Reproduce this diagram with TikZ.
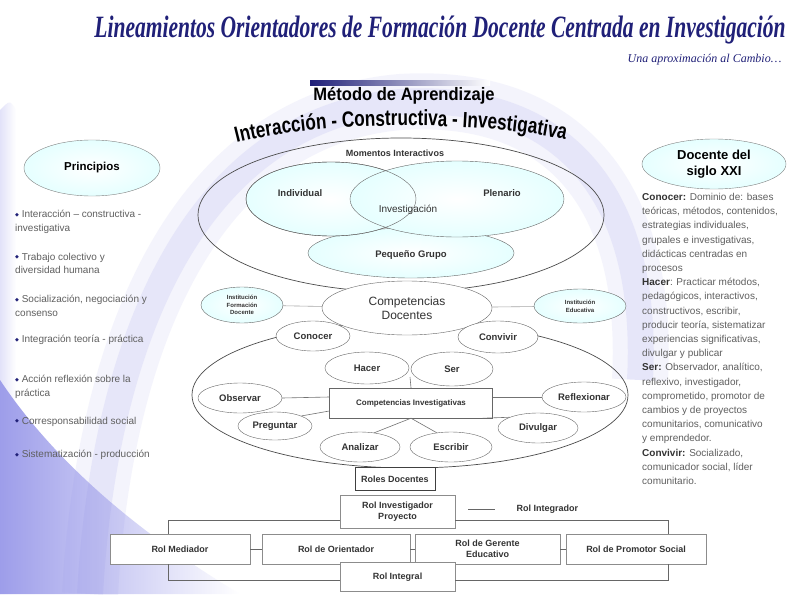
\documentclass[tikz,border=0pt]{standalone}
\usepackage{fontspec}
\setmainfont{Liberation Sans}
\newfontfamily\titlefont[FakeStretch=0.695]{Liberation Serif}
\newfontfamily\subfont{Liberation Serif}
\newfontfamily\arcfont[FakeStretch=0.78]{Liberation Sans}
\newfontfamily\methfont[FakeStretch=0.92]{Liberation Sans}
\newfontfamily\symfont{DejaVu Sans}
\usetikzlibrary{shapes.geometric,decorations.text,positioning}
\definecolor{navy}{RGB}{32,32,120}
\definecolor{lav}{RGB}{140,140,230}
\definecolor{txtgray}{RGB}{95,95,95}
\newcommand{\bul}{\raisebox{1.5pt}{\color{navy}\symfont\fontsize{5}{5}\selectfont ◆}\ }
\newcommand{\fs}[1]{\fontsize{#1}{#1}\selectfont}
\tikzset{
  bubble/.style={ellipse,draw=black!60,fill=white,inner sep=0pt,align=center,text=black!80,font=\fs{9.5}\bfseries},
  softbubble/.style={bubble,inner color=white,outer color=cyan!10},
  bigoval/.style={ellipse,draw=black!70,line width=0.7pt,inner sep=0pt},
  rolbox/.style={rectangle,draw=black!45,fill=white,inner sep=2pt,align=center,font=\fontsize{9}{11}\selectfont\bfseries,text=black!80},
  link/.style={draw=black!55,line width=0.6pt},
  rollink/.style={draw=black!60,line width=0.8pt},
  princ/.style={anchor=north west,align=left,text=txtgray,font=\fontsize{10}{13.5}\selectfont,inner sep=0pt},
  label/.style={text=black!80,font=\fs{9.5}\bfseries,inner sep=0pt},
}
\begin{document}
\begin{tikzpicture}[x=1pt,y=-1pt]
\useasboundingbox (0,0) rectangle (808,594);
% fondo
\fill[white] (0,0) rectangle (808,594);
\shade[left color=lav!25,right color=white] (0,110) .. controls (10,100) .. (16,110) -- (16,594) -- (0,594) -- cycle;
\shade[left color=lav!85,right color=white] (0,380) .. controls (60,470) and (150,540) .. (240,594) -- (0,594) -- cycle;
\draw[lav,line width=56,opacity=0.09] (90,594) .. controls (105,330) and (200,120) .. (400,102) .. controls (560,92) and (650,190) .. (640,380);
\draw[lav,line width=26,opacity=0.13] (90,594) .. controls (105,330) and (200,120) .. (400,102) .. controls (560,92) and (650,190) .. (640,380);

% titulo
\node[font=\titlefont\bfseries\itshape\fs{31},text=navy] (titulo) at (440,30) {Lineamientos Orientadores de Formación Docente Centrada en Investigación};
\node[font=\subfont\itshape\fs{12},text=navy,anchor=east] (sub) at (785,60) {Una aproximación al Cambio\dots};
\shade[left color=navy,right color=white] (310,80) rectangle (490,85);
\node[font=\methfont\bfseries\fs{18},anchor=base] (metodo) at (404,100) {Método de Aprendizaje};
\path[decorate,decoration={text along path,text align=center,
  text={|\arcfont\bfseries\fs{22}|Interacción - Constructiva - Investigativa}}]
  (232,144) .. controls (320,120) and (485,120) .. (570,141);

% momentos interactivos
\node[bigoval,minimum width=406,minimum height=154] (momentos) at (401,215) {};
\node[bigoval,minimum width=436,minimum height=146] (compet) at (410,395) {};
\node[label,font=\fs{9}\bfseries] (momtxt) at (395,153) {Momentos Interactivos};
\node[softbubble,minimum width=206,minimum height=50] (pequeno) at (411,253) {};
\node[softbubble,minimum width=170,minimum height=74] (indiv) at (331,199) {};
\node[softbubble,minimum width=214,minimum height=76] (plen) at (457,199) {};
\node[bubble,fill=none,minimum width=170,minimum height=74] at (331,199) {};
\node[label] (indtxt) at (300,193) {Individual};
\node[label] (plentxt) at (502,193) {Plenario};
\node[label,font=\fs{10}] (invtxt) at (408,210) {Investigación};
\node[label] (peqtxt) at (411,255) {Pequeño Grupo};

% competencias docentes
\node[bubble,font=\fs{12},minimum width=170,minimum height=54] (compdoc) at (407,308) {Competencias\\[2pt]Docentes};
\node[softbubble,font=\fontsize{6}{7.5}\selectfont\bfseries,minimum width=82,minimum height=36] (ifd) at (242,305) {Institución\\Formación\\Docente};
\node[softbubble,font=\fontsize{6}{8}\selectfont\bfseries,minimum width=92,minimum height=34] (ied) at (580,306) {Institución\\Educativa};
\draw[link,black!35] (ifd) -- (compdoc);
\draw[link,black!35] (compdoc) -- (ied);

\node[bubble,minimum width=74,minimum height=30] (conocer) at (313,336) {Conocer};
\node[bubble,minimum width=80,minimum height=32] (convivir) at (498,337) {Convivir};
\node[bubble,minimum width=84,minimum height=32] (hacer) at (367,368) {Hacer};
\node[bubble,minimum width=82,minimum height=34] (ser) at (452,369) {Ser};
\node[bubble,minimum width=84,minimum height=30] (observar) at (240,398) {Observar};
\node[bubble,minimum width=84,minimum height=30] (reflex) at (584,397) {Reflexionar};
\node[bubble,minimum width=74,minimum height=28] (preguntar) at (275,426) {Preguntar};
\node[bubble,minimum width=80,minimum height=30] (divulgar) at (538,428) {Divulgar};
\node[bubble,minimum width=80,minimum height=30] (analizar) at (360,447) {Analizar};
\node[bubble,minimum width=82,minimum height=30] (escribir) at (451,447) {Escribir};
\node[rectangle,draw=black!60,fill=white,minimum width=163,minimum height=30,text=black!80,font=\fs{8}\bfseries] (compinv) at (411,403) {Competencias Investigativas};
\coordinate (hs) at (410,377);
\draw[link] (compinv.north) -- (hs);
\draw[link] ([yshift=6]compinv.west) -- (observar.east);
\draw[link] ([yshift=6]compinv.east) -- (reflex.west);
\draw[link] ([yshift=-8]compinv.west) -- (preguntar.north east);
\draw[link] ([xshift=-10]compinv.south east) -- (divulgar.north west);
\draw[link] (compinv.south) -- (analizar.45);
\draw[link] (compinv.south) -- (escribir.135);

% roles
\node[rolbox,draw=black!75,minimum width=80,minimum height=23] (roles) at (395,479) {Roles Docentes};
\node[rolbox,minimum width=115,minimum height=33] (inv) at (397.5,511.5) {Rol Investigador\\Proyecto};
\node[font=\fs{9}\bfseries,text=black!80,anchor=west] (integrador) at (513,509) {Rol Integrador};
\draw[rollink] ([xshift=13,yshift=2.5]inv.east) -- ([xshift=-18]integrador.west);
\node[rolbox,minimum width=140,minimum height=30] (med) at (180,549) {Rol Mediador};
\node[rolbox,minimum width=148,minimum height=30] (ori) at (336,549) {Rol de Orientador};
\node[rolbox,minimum width=145,minimum height=30] (ger) at (487.5,549) {Rol de Gerente\\Educativo};
\node[rolbox,minimum width=140,minimum height=30] (prom) at (636,549) {Rol de Promotor Social};
\node[rolbox,minimum width=115,minimum height=29] (integ) at (397.5,577) {Rol Integral};
\draw[rollink] (med) -- (ori);
\draw[rollink] (ori) -- (ger);
\draw[rollink] (ger) -- (prom);
\draw[rollink] ([yshift=-8.5]inv.west) -| ([xshift=-12]med.north);
\draw[rollink] ([yshift=-8.5]inv.east) -| ([xshift=32]prom.north);
\draw[rollink] ([xshift=-12]med.south) |- ([yshift=-3]integ.west);
\draw[rollink] ([yshift=-3]integ.east) -| ([xshift=32]prom.south);

% principios
\node[softbubble,draw=black!50,text=black,font=\fs{11.5}\bfseries,minimum width=136,minimum height=56] (principios) at (92,168) {Principios};
\node[princ] (p1) at (15,210) {\bul Interacción – constructiva -\\investigativa};
\node[princ] (p2) at (15,253) {\bul Trabajo colectivo y\\diversidad humana};
\node[princ] (p3) at (15,295) {\bul Socialización, negociación y\\consenso};
\node[princ] (p4) at (15,335) {\bul Integración teoría - práctica};
\node[princ] (p5) at (15,375) {\bul Acción reflexión sobre la\\práctica};
\node[princ] (p6) at (15,417) {\bul Corresponsabilidad social};
\node[princ] (p7) at (15,450) {\bul Sistematización - producción};

% docente del siglo XXI
\node[softbubble,draw=black!50,text=black,font=\fontsize{13}{16}\selectfont\bfseries,minimum width=144,minimum height=50] (docente) at (714,164) {Docente del\\siglo XXI};
\node[princ,font=\fontsize{10}{14.2}\selectfont] (perfil) at (642,193) {\textcolor{black!80}{\textbf{Conocer:}} Dominio de: bases\\
teóricas, métodos, contenidos,\\
estrategias individuales,\\
grupales e investigativas,\\
didácticas centradas en\\
procesos\\
\textcolor{black!80}{\textbf{Hacer}}: Practicar métodos,\\
pedagógicos, interactivos,\\
constructivos, escribir,\\
producir teoría, sistematizar\\
experiencias significativas,\\
divulgar y publicar\\
\textcolor{black!80}{\textbf{Ser:}} Observador, analítico,\\
reflexivo, investigador,\\
comprometido, promotor de\\
cambios y de proyectos\\
comunitarios, comunicativo\\
y emprendedor.\\
\textcolor{black!80}{\textbf{Convivir:}} Socializado,\\
comunicador social, líder\\
comunitario.};
\end{tikzpicture}
\end{document}
